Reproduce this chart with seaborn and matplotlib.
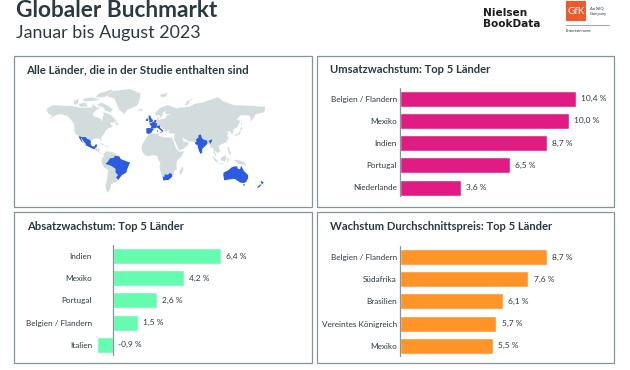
import numpy as np
import matplotlib
matplotlib.use("Agg")
import matplotlib.pyplot as plt
import seaborn as sns
from matplotlib.patches import Rectangle

# -------------------------------
# Chart values
# -------------------------------
umsatz_labels = ["Belgien / Flandern", "Mexiko", "Indien", "Portugal", "Niederlande"]
umsatz_values = [10.4, 10.0, 8.7, 6.5, 3.6]

absatz_labels = ["Indien", "Mexiko", "Portugal", "Belgien / Flandern", "Italien"]
absatz_values = [6.4, 4.2, 2.6, 1.5, -0.9]

preis_labels = ["Belgien / Flandern", "Südafrika", "Brasilien", "Vereintes Königreich", "Mexiko"]
preis_values = [8.7, 7.6, 6.1, 5.7, 5.5]

# -------------------------------
# Map outlines, rough (lon, lat)
# -------------------------------
north_america = [(-168,65.5),(-165,68),(-157,71),(-141,70),(-128,70),(-115,68),(-108,68),(-96,68),(-94,72),(-88,68),(-82,69),(-86,66),(-93,62),(-94,58.5),(-88,56.5),(-82,55),(-80,51.5),(-79,55),(-77,60),(-78,62.5),(-70,61),(-65,59),(-60,55),(-56,52),(-60,50),(-66,50),(-65,47),(-61,46),(-66,44),(-70,43),(-74,40),(-76,36),(-81,31),(-80,26),(-81.5,25.5),(-83,29),(-90,29.5),(-97,27),(-97.5,22),(-95,18.5),(-91,18.5),(-90.5,21),(-87,21),(-88,16),(-84,15.5),(-83,10),(-79,9),(-77,8),(-80,7.5),(-85,10),(-92,14.5),(-96,16),(-105,20),(-110,24),(-113,30),(-117,33),(-121,35),(-124,40),(-124,48),(-130,54),(-135,58),(-145,60),(-152,59),(-160,55.5),(-165,54.5),(-158,58),(-165,60.5)]
baffin = [(-80,73),(-72,71),(-62,66),(-66,62),(-74,64),(-78,68),(-88,71)]
victoria = [(-117,72),(-105,73),(-102,69),(-115,69)]
banks = [(-125,74),(-116,76),(-118,72),(-124,71)]
ellesmere = [(-90,77),(-85,80),(-65,83),(-62,81.5),(-76,77)]
devon = [(-110,76),(-95,77),(-82,75),(-95,74),(-108,74)]
newfoundland = [(-59,48),(-56,51.5),(-53,47),(-56,47)]
greenland = [(-73,78),(-62,82),(-35,83.5),(-18,80),(-20,74),(-24,70),(-40,65),(-44,60),(-52,65),(-55,70),(-60,76)]
iceland = [(-24,65.5),(-15,66.3),(-14,64.5),(-20,63.5)]
cuba = [(-84.5,22),(-80,23),(-74.5,20),(-78,20)]
hispaniola = [(-74,19.5),(-69,19.5),(-69,18.2),(-74,18)]
south_america = [(-77,8),(-72,12),(-62,10.5),(-52,5),(-50,0),(-44,-2.5),(-35,-6),(-39,-15),(-41,-22),(-48,-26),(-53,-34),(-58,-38),(-65,-41),(-66,-48),(-69,-52),(-66,-55),(-73,-52),(-74,-42),(-71,-30),(-70,-18),(-76,-14),(-81,-5),(-80,1),(-77,4)]
africa = [(-6,35.5),(10,37),(11,33.5),(20,31),(32,31),(35,24),(39,15),(43,11.5),(51,12),(47,4),(40,-3),(39,-10),(40,-16),(35,-20),(35,-25),(32,-29),(26,-34),(18,-34.5),(14,-22),(12,-15),(13,-6),(9,0),(9,4),(4,6),(-4,5),(-8,4.5),(-13,8),(-17,14),(-16,21),(-10,29)]
madagascar = [(49,-12),(50,-16),(47,-25),(44,-25),(43.5,-20),(46,-16)]
eurasia = [(-9,37),(-9,43),(-1,43.5),(-4,48),(2,51),(8,54),(8,57),(11,56),(10,54),(20,54.5),(24,59),(30,60),(22,60),(21,64),(17,61),(18,59.5),(13,55.5),(11,59),(6,58),(5,62),(14,68),(25,71),(40,67),(44,68),(60,69),(68,72),(80,73),(105,77),(113,74),(130,71),(160,70),(180,69),(180,65),(178,62),(165,60),(163,57),(157,51),(156,58),(142,59),(135,54),(141,52),(135,44),(130,42),(129,37),(126.5,35),(125,39),(121,39),(118,39),(122,37),(120,34),(122,30),(118,24),(110,21),(106,19),(109,12),(105,9),(100,13),(103,2),(100,6),(98,10),(97,17),(94,16),(91,22),(87,21),(80,15),(79,10),(77.5,8),(73,18),(72,21),(67,25),(57,25.5),(56,27),(50,30),(48,29.5),(51,25),(56,25),(59,22),(52,16),(43,12.5),(39,21),(35,28),(35.5,34),(36,36.5),(28,36.5),(26,39),(29,41),(24,40),(23,36.5),(19.5,41),(13,45.5),(18,40),(16,38),(12,42),(9,44),(3,43),(0,39),(-2,36.7),(-5,36)]
novaya = [(52,71),(56,74),(68,77),(60,74),(56,70.5)]
svalbard = [(12,79),(25,80.5),(22,77.5),(15,77)]
sakhalin = [(142,54),(143.5,50),(143,46),(142,48)]
japan = [(130,32),(132,34.5),(137,37),(140,40),(141.5,45),(145,43.5),(141.5,41),(141,36),(136,34)]
sumatra = [(95,5.5),(100,2),(106,-4),(104,-6),(100,-3)]
borneo = [(109,1),(117,7),(119,1),(116,-4),(110,-3)]
java = [(105.5,-6),(114,-7),(114,-8.5),(106,-7.5)]
sulawesi = [(120,1),(125,1.5),(122,-1),(122,-5),(119.5,-5)]
new_guinea = [(131,-1),(141,-2.5),(148,-6),(150,-10),(143,-9),(138,-8),(133,-4)]
philippines = [(120,18),(122,18),(124,13),(126,9),(125,6),(122,8),(121,13)]
taiwan = [(120,23),(121.5,25),(121,22)]
sri_lanka = [(80,9.5),(82,7),(80.5,6)]

mexico = [(-117,32.5),(-114.7,32.5),(-111,31.3),(-106,31.7),(-103,29),(-100,28),(-97.2,26),(-97.8,22),(-95.5,18.8),(-91.5,18.6),(-90.5,21),(-87,21.3),(-88.2,18),(-91,16),(-92.2,14.6),(-96,16),(-105,20),(-106,23),(-109,26),(-113,31),(-112,27),(-110,23),(-112,25),(-115,29)]
brazil = [(-60,5),(-52,4),(-50,0),(-44,-2.5),(-35,-6),(-39,-15),(-41,-22),(-48,-26),(-53.5,-33.5),(-57.5,-30),(-54,-26),(-58,-22),(-58,-16),(-65,-11),(-74,-8),(-70,-4),(-67,1),(-60,2)]
south_africa = [(17,-29),(20,-28.5),(20,-25),(25,-25.5),(29,-22.5),(32,-25),(32,-29),(26,-34),(18,-34.5)]
india = [(68,23.5),(71,25),(70,28),(74,31),(74,34.5),(78,35),(79,31),(81,28.5),(88,26.5),(88,22),(85,19.5),(80,15),(79.8,10),(77.5,8),(75,12),(73,18),(72.5,21),(70,21)]
india_east = [(89.5,26),(96,28.5),(95,25),(93,22),(91.5,25)]
iberia = [(-9,37),(-9,43.5),(-1.8,43.4),(3,42.3),(0,39.5),(-1,37.5),(-5,36)]
france = [(-1.8,43.4),(-1,46),(-4.5,48.5),(2,51),(8,49),(7,44),(3,43)]
benelux = [(2.5,51),(4,53),(7,53.3),(6,50)]
italy = [(7,44),(7,46),(13,46.5),(12.5,44),(18,40.3),(16,38),(15.5,40),(12,42),(9,44)]
sicily = [(12.5,38),(15.5,38.2),(15,36.7)]
sardinia = [(8.2,41),(9.7,41),(9.5,39),(8.4,39)]
britain = [(-5,50),(1,51),(1.5,53),(-2,56),(-2,58),(-5.5,58.5),(-5,54.5),(-4,53)]
ireland = [(-10,52),(-6,52),(-6,55),(-9,54.5)]
australia = [(114,-22),(122,-18),(126,-14),(131,-12),(136,-12),(136,-15),(140,-17),(142,-11),(146,-19),(153,-26),(153,-31),(150,-37),(146,-39),(140,-38),(136,-35),(131,-32),(124,-33),(115,-34.5),(113.5,-26)]
tasmania = [(145,-41),(148,-41),(147,-43.5),(146,-43.5)]
nz_north = [(173,-35),(178,-38),(175,-41.5),(174,-39)]
nz_south = [(172.5,-41),(174,-42),(170,-46.5),(167,-46)]

grey_shapes = [north_america, baffin, victoria, banks, ellesmere, devon, newfoundland,
               greenland, iceland, cuba, hispaniola, south_america, africa, madagascar,
               eurasia, novaya, svalbard, sakhalin, japan, sumatra, borneo, java,
               sulawesi, new_guinea, philippines, taiwan, sri_lanka]
blue_shapes = [mexico, brazil, south_africa, india, india_east, iberia, france, benelux,
               italy, sicily, sardinia, britain, ireland, australia, tasmania, nz_north, nz_south]

# latitude -> picture row, the map is stretched towards the pole
lat_anchors = [-60, -34, 8, 40, 71, 85]
row_anchors = [196, 180, 154, 131, 105, 87]

TEXT = "#2b3a42"
FRAME = "#84949b"
W, H = 630, 370
PX_PER_PERCENT = 16.9


def px_rect(x0, y0, x1, y1):
    return [x0 / W, 1 - y1 / H, (x1 - x0) / W, (y1 - y0) / H]


def draw_bars(fig, labels, values, color, zero_x, top, bottom, first_y, label_gap=3.2,
              step=22.2, bar_h=16):
    # left edge of the axes is where the category labels end
    xmin, xmax = -label_gap / PX_PER_PERCENT, 13
    ax = fig.add_axes(px_rect(zero_x + xmin * PX_PER_PERCENT, top,
                              zero_x + xmax * PX_PER_PERCENT, bottom))
    sns.barplot(x=values, y=labels, color=color, saturation=1, width=bar_h / step,
                orient="h", ax=ax)
    ax.set_xlim(xmin, xmax)
    ax.set_ylim((bottom - first_y) / step, (top - first_y) / step)
    ax.patch.set_visible(False)
    ax.set_xticks([])
    ax.set_xlabel("")
    ax.set_ylabel("")
    sns.despine(ax=ax, left=True, bottom=True)
    ax.axvline(0, color="#8a9599", lw=0.9, zorder=5)
    ax.tick_params(axis="y", length=0, pad=0, labelsize=5.9, labelcolor=TEXT)
    for i, v in enumerate(values):
        txt = f"{v:.1f}".replace(".", ",") + " %"
        ax.annotate(txt, (max(v, 0), i), xytext=(5.3, 0), textcoords="offset pixels",
                    ha="left", va="center", fontsize=6, color=TEXT, annotation_clip=False)
    return ax


sns.set_theme(style="white")
plt.rcParams["font.family"] = ["Lato", "DejaVu Sans"]

fig = plt.figure(figsize=(W / 100, H / 100), dpi=100, facecolor="white")

# -------------------------------
# Page layer in pixel coordinates
# -------------------------------
page = fig.add_axes([0, 0, 1, 1])
page.set_xlim(0, W)
page.set_ylim(H, 0)
page.axis("off")

panels = [(14, 56, 312, 207), (317, 56, 614, 207), (14, 212, 312, 363), (317, 212, 614, 363)]
for x0, y0, x1, y1 in panels:
    page.add_patch(Rectangle((x0, y0), x1 - x0, y1 - y0, fill=False, ec=FRAME, lw=0.9))

page.text(16.5, 10.5, "Globaler Buchmarkt", fontsize=16.3, fontweight="bold", color=TEXT,
          ha="left", va="center")
page.text(16.5, 33, "Januar bis August 2023", fontsize=12.9, color=TEXT, ha="left", va="center")

page.text(26.5, 69.5, "Alle Länder, die in der Studie enthalten sind", fontsize=8.25,
          fontweight="bold", color=TEXT, ha="left", va="center")
page.text(330, 69.5, "Umsatzwachstum: Top 5 Länder", fontsize=8.15, fontweight="bold",
          color=TEXT, ha="left", va="center")
page.text(27, 226.5, "Absatzwachstum: Top 5 Länder", fontsize=8.15, fontweight="bold",
          color=TEXT, ha="left", va="center")
page.text(330, 226.5, "Wachstum Durchschnittspreis: Top 5 Länder", fontsize=8.15,
          fontweight="bold", color=TEXT, ha="left", va="center")

# logos
page.text(483, 13, "Nielsen", fontsize=7.6, fontweight="bold", family="DejaVu Sans",
          color="#1c1c1c", ha="left", va="center")
page.text(483, 24, "BookData", fontsize=7.6, fontweight="bold", family="DejaVu Sans",
          color="#1c1c1c", ha="left", va="center")
page.add_patch(Rectangle((566, 1), 20, 19.5, fc="#ef5a2b", ec="none"))
page.text(576, 11.5, "GfK", fontsize=7.2, color="white", ha="center", va="center")
page.text(590, 8, "An NIQ", fontsize=3, color=TEXT, ha="left", va="center")
page.text(590, 14, "Company", fontsize=3, color=TEXT, ha="left", va="center")
page.plot([566, 609], [24.5, 24.5], color="#a5abad", lw=0.8)
page.text(566, 31.5, "Entertainment", fontsize=3, color=TEXT, ha="left", va="center")

# -------------------------------
# World map
# -------------------------------
map_ax = fig.add_axes(px_rect(40, 82, 280, 200))
map_ax.set_xlim((40 - 152) / 0.628, (280 - 152) / 0.628)
map_ax.set_ylim(200, 82)
map_ax.axis("off")
for shape in grey_shapes:
    lon, lat = zip(*shape)
    map_ax.fill(lon, np.interp(lat, lat_anchors, row_anchors), fc="#d3dcdc", ec="white", lw=0.15)
for shape in blue_shapes:
    lon, lat = zip(*shape)
    map_ax.fill(lon, np.interp(lat, lat_anchors, row_anchors), fc="#2a5be0", ec="none")

# -------------------------------
# Bars
# -------------------------------
draw_bars(fig, umsatz_labels, umsatz_values, "#e01c84", 400, 88, 197, 98.7)
draw_bars(fig, absatz_labels, absatz_values, "#66fcb0", 112.7, 245, 356, 256, label_gap=20.7)
draw_bars(fig, preis_labels, preis_values, "#ff9429", 400, 246, 357, 257)

plt.savefig("out.png", dpi=100)
plt.close()
